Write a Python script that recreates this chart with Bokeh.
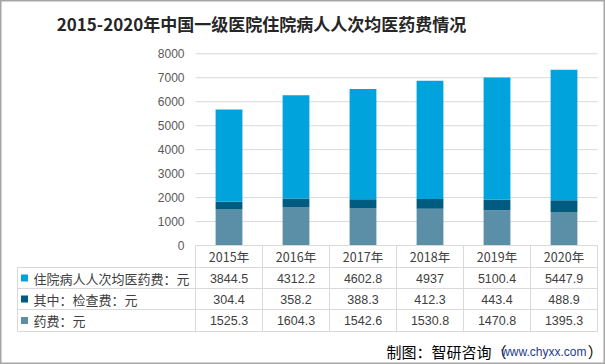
from bokeh.plotting import figure
from bokeh.models import Range1d, ColumnDataSource
from bokeh.core.properties import value
from bokeh.embed import file_html
from bokeh.resources import INLINE

# ---------------- data ----------------
years = ["2015年", "2016年", "2017年", "2018年", "2019年", "2020年"]
inpatient = [3844.5, 4312.2, 4602.8, 4937, 5100.4, 5447.9]   # 住院病人人次均医药费
exam = [304.4, 358.2, 388.3, 412.3, 443.4, 488.9]            # 其中：检查费
drug = [1525.3, 1604.3, 1542.6, 1530.8, 1470.8, 1395.3]      # 药费
series_names = ["住院病人人次均医药费：元", "其中：检查费：元", "药费：元"]
series_colors = ["#00a3db", "#005b81", "#5b8fa8"]
y_ticks = [0, 1000, 2000, 3000, 4000, 5000, 6000, 7000, 8000]
title_text = "2015-2020年中国一级医院住院病人人次均医药费情况"
footer_parts = ["制图：智研咨询（", "www.chyxx.com", "）"]

# ---------------- layout helpers (reference pixel -> data units) ----------------
W, H = 605, 364
OFF = 0
PX0, PY0 = 195.0, 245.0      # left of first category, zero line (page px)
UX = 67.0                    # px per category
UY = 191.7 / 8000.0          # px per value unit
def X(px):
    return (px - PX0) / UX
def Y(py):
    return (PY0 - py) / UY

CJK = "Noto Sans CJK SC"
NUM = "Liberation Sans"

p = figure(width=W, height=H, output_backend="svg", toolbar_location=None,
           x_range=Range1d(X(OFF), X(OFF + W)), y_range=Range1d(Y(OFF + H), Y(OFF)),
           x_axis_type=None, y_axis_type=None, min_border=0)
p.outline_line_color = "#a6a6a6"
p.outline_line_width = 2
p.background_fill_color = "white"
p.border_fill_color = "white"

n = len(years)
xs = [i + 0.5 for i in range(n)]

# grid lines
p.segment(x0=[0] * (len(y_ticks) - 1), x1=[n] * (len(y_ticks) - 1),
          y0=y_ticks[1:], y1=y_ticks[1:], line_color="#d9d9d9", line_width=1)

# stacked bars
src = ColumnDataSource(dict(x=xs, drug=drug, exam=exam, inpatient=inpatient))
p.vbar_stack(["drug", "exam", "inpatient"], x="x", width=0.4, source=src,
             color=[series_colors[2], series_colors[1], series_colors[0]],
             line_color=None)

# y tick labels
p.text(x=[X(184)] * len(y_ticks), y=y_ticks, text=[str(t) for t in y_ticks],
       text_align="right", text_baseline="middle",
       text_font=value(NUM), text_font_size=value("12px"), text_color="#595959")

# ---------------- data table ----------------
row_lines = [Y(267), Y(288), Y(309), Y(331)]
tcol = "#d9d9d9"
p.segment(x0=[0], x1=[n], y0=[0], y1=[0], line_color=tcol, line_width=1)
p.segment(x0=[X(17)] * 4, x1=[n] * 4, y0=row_lines, y1=row_lines,
          line_color=tcol, line_width=1)
p.segment(x0=list(range(n + 1)), x1=list(range(n + 1)),
          y0=[0] * (n + 1), y1=[row_lines[-1]] * (n + 1), line_color=tcol, line_width=1)
p.segment(x0=[X(17)], x1=[X(17)], y0=[row_lines[0]], y1=[row_lines[-1]],
          line_color=tcol, line_width=1)

txt_col = "#404040"
p.text(x=xs, y=[Y(256)] * n, text=years, text_align="center", text_baseline="middle",
       text_font=value(CJK), text_font_size=value("12.5px"), text_color=txt_col)

row_centers = [Y(277.5), Y(298.5), Y(320)]
row_values = [inpatient, exam, drug]
for rc, name, col, vals in zip(row_centers, series_names, series_colors, row_values):
    p.scatter(x=[X(24)], y=[rc], marker="square", size=7, fill_color=col, line_color=None)
    p.text(x=[X(33)], y=[rc], text=[name], text_align="left", text_baseline="middle",
           text_font=value(CJK), text_font_size=value("13px"), text_color=txt_col)
    p.text(x=xs, y=[rc] * n, text=[("%g" % v) for v in vals], text_align="center",
           text_baseline="middle", text_font=value(NUM), text_font_size=value("12.5px"),
           text_color=txt_col)

# ---------------- title ----------------
p.text(x=[X(261)], y=[Y(23)], text=[title_text], text_align="center", text_baseline="middle",
       text_font=value(CJK), text_font_size=value("17px"), text_font_style="bold",
       text_color="#262626")

# ---------------- footer ----------------
url_end = X(586)
url_w = 80.0 / UX
p.text(x=[url_end - url_w], y=[Y(351)], text=[footer_parts[0]], text_align="right",
       text_baseline="middle", text_font=value(CJK), text_font_size=value("15px"),
       text_color="#000000")
p.text(x=[url_end], y=[Y(351)], text=[footer_parts[1]], text_align="right",
       text_baseline="middle", text_font=value(NUM), text_font_size=value("12px"),
       text_color="#1f3a8a")
p.text(x=[url_end + 0.02], y=[Y(351)], text=[footer_parts[2]], text_align="left",
       text_baseline="middle", text_font=value(CJK), text_font_size=value("15px"),
       text_color="#000000")

open("out.html", "w").write(file_html(p, INLINE))
